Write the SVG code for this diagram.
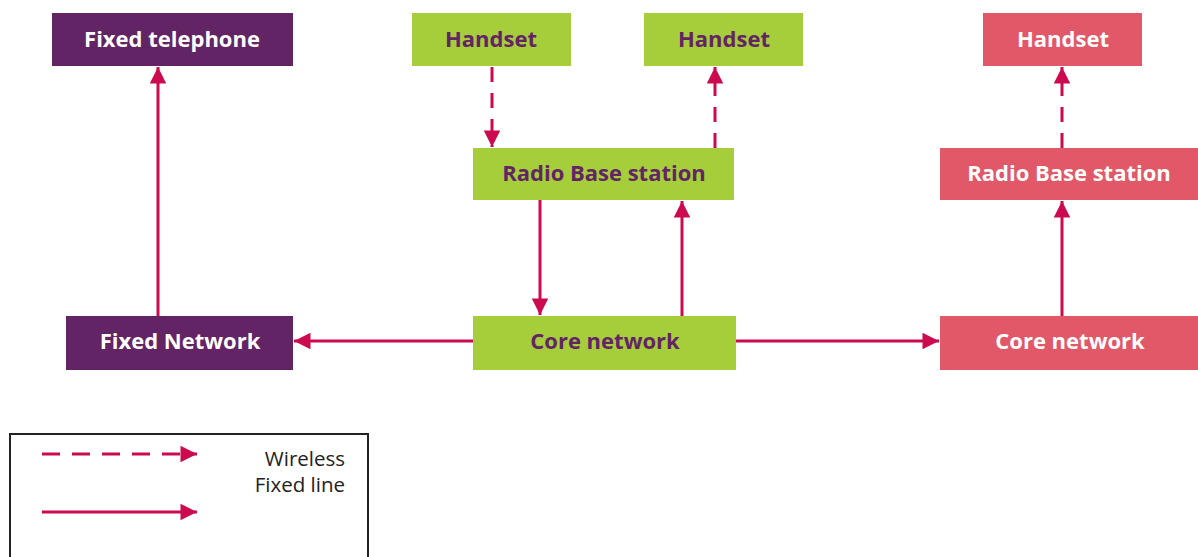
<svg xmlns="http://www.w3.org/2000/svg" width="1198" height="557" viewBox="0 0 1198 557">
<style>
.purple{fill:#632466}
.green{fill:#a6cd3a}
.red{fill:#e15868}
.lbl{font-family:"Open Sans","Liberation Sans",sans-serif;font-weight:bold;font-size:22px;text-anchor:middle;dominant-baseline:central}
.w{fill:#ffffff}
.p{fill:#632466}
.ln{stroke:#cc0a4f;stroke-width:3;fill:none}
.dash{stroke-dasharray:15 11}
.dashl{stroke-dasharray:18 12}
.leg{font-family:"Open Sans","Liberation Sans",sans-serif;font-size:20.5px;fill:#222;text-anchor:end}
</style>
<defs>
<marker id="ah" viewBox="0 0 10 10" refX="10" refY="5" markerWidth="6" markerHeight="5.5" orient="auto" markerUnits="strokeWidth">
<path d="M0,0 L10,5 L0,10 Z" fill="#cc0a4f"/>
</marker>
</defs>
<g id="connectors">
<line class="ln" x1="158" y1="316" x2="158" y2="67" marker-end="url(#ah)"/>
<line class="ln dash" x1="492" y1="67" x2="492" y2="147" marker-end="url(#ah)"/>
<line class="ln dash" x1="715" y1="148" x2="715" y2="67" marker-end="url(#ah)"/>
<line class="ln" x1="540" y1="200" x2="540" y2="315" marker-end="url(#ah)"/>
<line class="ln" x1="682" y1="316" x2="682" y2="201" marker-end="url(#ah)"/>
<line class="ln" x1="473" y1="341" x2="294" y2="341" marker-end="url(#ah)"/>
<line class="ln" x1="736" y1="341" x2="939" y2="341" marker-end="url(#ah)"/>
<line class="ln" x1="1062" y1="316" x2="1062" y2="201" marker-end="url(#ah)"/>
<line class="ln dash" x1="1062" y1="148" x2="1062" y2="67" marker-end="url(#ah)"/>
</g>
<g id="fixed-telephone"><rect class="purple" x="52" y="13" width="241" height="53"/><text class="lbl w" x="172" y="37.5">Fixed telephone</text></g>
<g id="handset-1"><rect class="green" x="412" y="13" width="159" height="53"/><text class="lbl p" x="491" y="37.5">Handset</text></g>
<g id="handset-2"><rect class="green" x="644" y="13" width="159" height="53"/><text class="lbl p" x="724" y="37.5">Handset</text></g>
<g id="handset-3"><rect class="red" x="983" y="13" width="159" height="53"/><text class="lbl w" x="1063" y="37.5">Handset</text></g>
<g id="rbs-green"><rect class="green" x="473" y="148" width="261" height="52"/><text class="lbl p" x="604" y="171.5">Radio Base station</text></g>
<g id="rbs-red"><rect class="red" x="940" y="148" width="258" height="52"/><text class="lbl w" x="1069" y="171.5">Radio Base station</text></g>
<g id="fixed-network"><rect class="purple" x="66" y="316" width="227" height="54"/><text class="lbl w" x="180" y="339.5">Fixed Network</text></g>
<g id="core-green"><rect class="green" x="473" y="316" width="263" height="54"/><text class="lbl p" x="605" y="339.5">Core network</text></g>
<g id="core-red"><rect class="red" x="940" y="316" width="258" height="54"/><text class="lbl w" x="1070" y="339.5">Core network</text></g>
<g id="legend">
<rect x="10" y="434" width="358" height="140" fill="none" stroke="#222" stroke-width="2"/>
<line class="ln dashl" x1="42" y1="454" x2="197" y2="454" marker-end="url(#ah)"/>
<line class="ln" x1="42" y1="512" x2="197" y2="512" marker-end="url(#ah)"/>
<text class="leg" x="345" y="466">Wireless</text>
<text class="leg" x="345" y="492">Fixed line</text>
</g>
</svg>
